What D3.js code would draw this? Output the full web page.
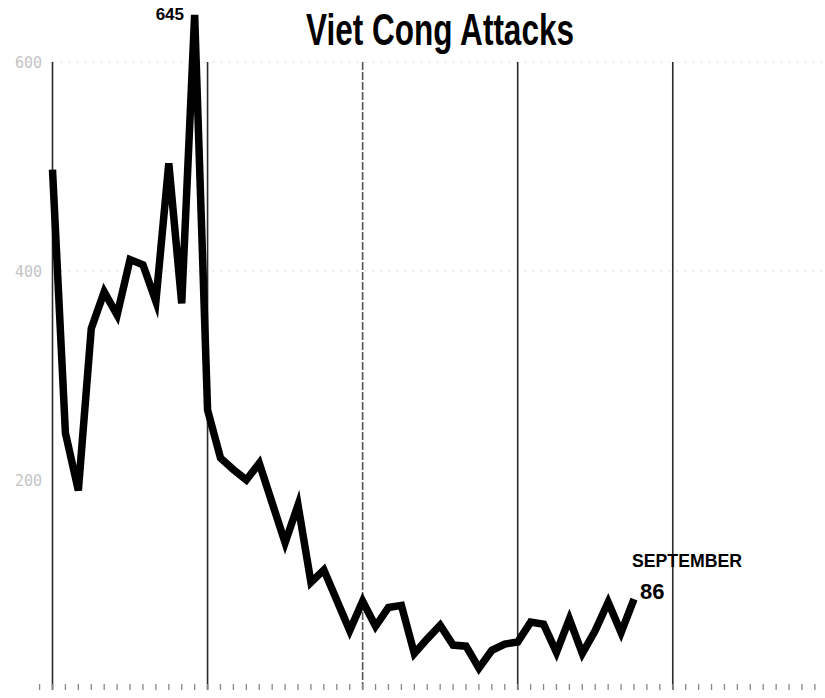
<!DOCTYPE html>
<html>
<head>
<meta charset="utf-8">
<script src="https://cdn.jsdelivr.net/npm/d3@7/dist/d3.min.js"></script>
<style>
  html, body { margin: 0; padding: 0; background: #fff; }
  svg { display: block; }
</style>
</head>
<body>
<svg id="chart" width="825" height="698"></svg>
<script>
// Monthly Viet Cong attacks (index 0 = first month shown, last = September)
const months = d3.range(46);
const attacks = [497, 245, 190, 345, 380, 358, 411, 406, 371, 503, 369, 645,
                 267, 221, 210, 200, 216, 178, 140, 176, 102, 114, 85, 56,
                 84, 60, 78, 80, 34, 48, 61, 42, 41, 20, 37, 43,
                 45, 64, 62, 35, 67, 34, 56, 83, 54, 86];
const yTicks = [200, 400, 600];
const yearLines = [0, 12, 24, 36, 48];
const title = "Viet Cong Attacks";
const peakLabel = "645";
const endMonth = "SEPTEMBER";
const endValue = "86";

const svg = d3.select("#chart");
const x = d3.scaleLinear().domain([0, 45]).range([52.5, 634]);
const y = d3.scaleLinear().domain([0, 600]).range([689, 62]);

// faint horizontal grid
svg.append("g").selectAll("line").data([400, 600]).join("line")
  .attr("x1", x(0)).attr("x2", 825)
  .attr("y1", d => y(d)).attr("y2", d => y(d))
  .attr("stroke", "#d8d8d8").attr("stroke-width", 1)
  .attr("stroke-dasharray", "2,6");

// year dividers
svg.append("g").selectAll("line").data(yearLines).join("line")
  .attr("x1", d => x(d)).attr("x2", d => x(d))
  .attr("y1", y(600)).attr("y2", 690)
  .attr("stroke", (d, i) => i === 2 ? "#555" : "#2a2a2a")
  .attr("stroke-width", 1.6)
  .attr("stroke-dasharray", (d, i) => i === 2 ? "8,2" : null);

// month tick marks along bottom
const tickMonths = d3.range(-1, 60);
svg.append("g").selectAll("line").data(tickMonths).join("line")
  .attr("x1", d => x(d)).attr("x2", d => x(d))
  .attr("y1", 684).attr("y2", 690)
  .attr("stroke", "#888").attr("stroke-width", 1.3);

// faint y labels
svg.append("g").selectAll("text").data(yTicks).join("text")
  .attr("x", 42).attr("y", d => y(d) + 6)
  .attr("text-anchor", "end")
  .attr("font-family", "DejaVu Sans Mono, monospace")
  .attr("font-size", 15)
  .attr("fill", "#c4c4c4")
  .text(d => d);

// the line
const line = d3.line().x((d, i) => x(months[i])).y(d => y(d));
svg.append("path").datum(attacks)
  .attr("d", line)
  .attr("fill", "none")
  .attr("stroke", "#000")
  .attr("stroke-width", 7.5)
  .attr("stroke-linejoin", "miter")
  .attr("stroke-miterlimit", 6);

// title
svg.append("text")
  .attr("x", 306).attr("y", 45)
  .attr("font-family", "Liberation Sans Narrow, Arial Narrow, sans-serif")
  .attr("font-weight", "bold")
  .attr("font-size", 45)
  .attr("textLength", 268).attr("lengthAdjust", "spacingAndGlyphs")
  .attr("fill", "#000")
  .text(title);

// peak label
svg.append("text")
  .attr("x", 184).attr("y", 20)
  .attr("text-anchor", "end")
  .attr("font-family", "Liberation Sans, Arial, sans-serif")
  .attr("font-weight", "bold")
  .attr("font-size", 17)
  .text(peakLabel);

// end labels
svg.append("text")
  .attr("x", 632).attr("y", 567)
  .attr("font-family", "Liberation Sans, Arial, sans-serif")
  .attr("font-weight", "bold")
  .attr("font-size", 19)
  .attr("textLength", 110).attr("lengthAdjust", "spacingAndGlyphs")
  .text(endMonth);
svg.append("text")
  .attr("x", 640).attr("y", 599)
  .attr("font-family", "Liberation Sans, Arial, sans-serif")
  .attr("font-weight", "bold")
  .attr("font-size", 22)
  .text(endValue);
</script>
</body>
</html>
